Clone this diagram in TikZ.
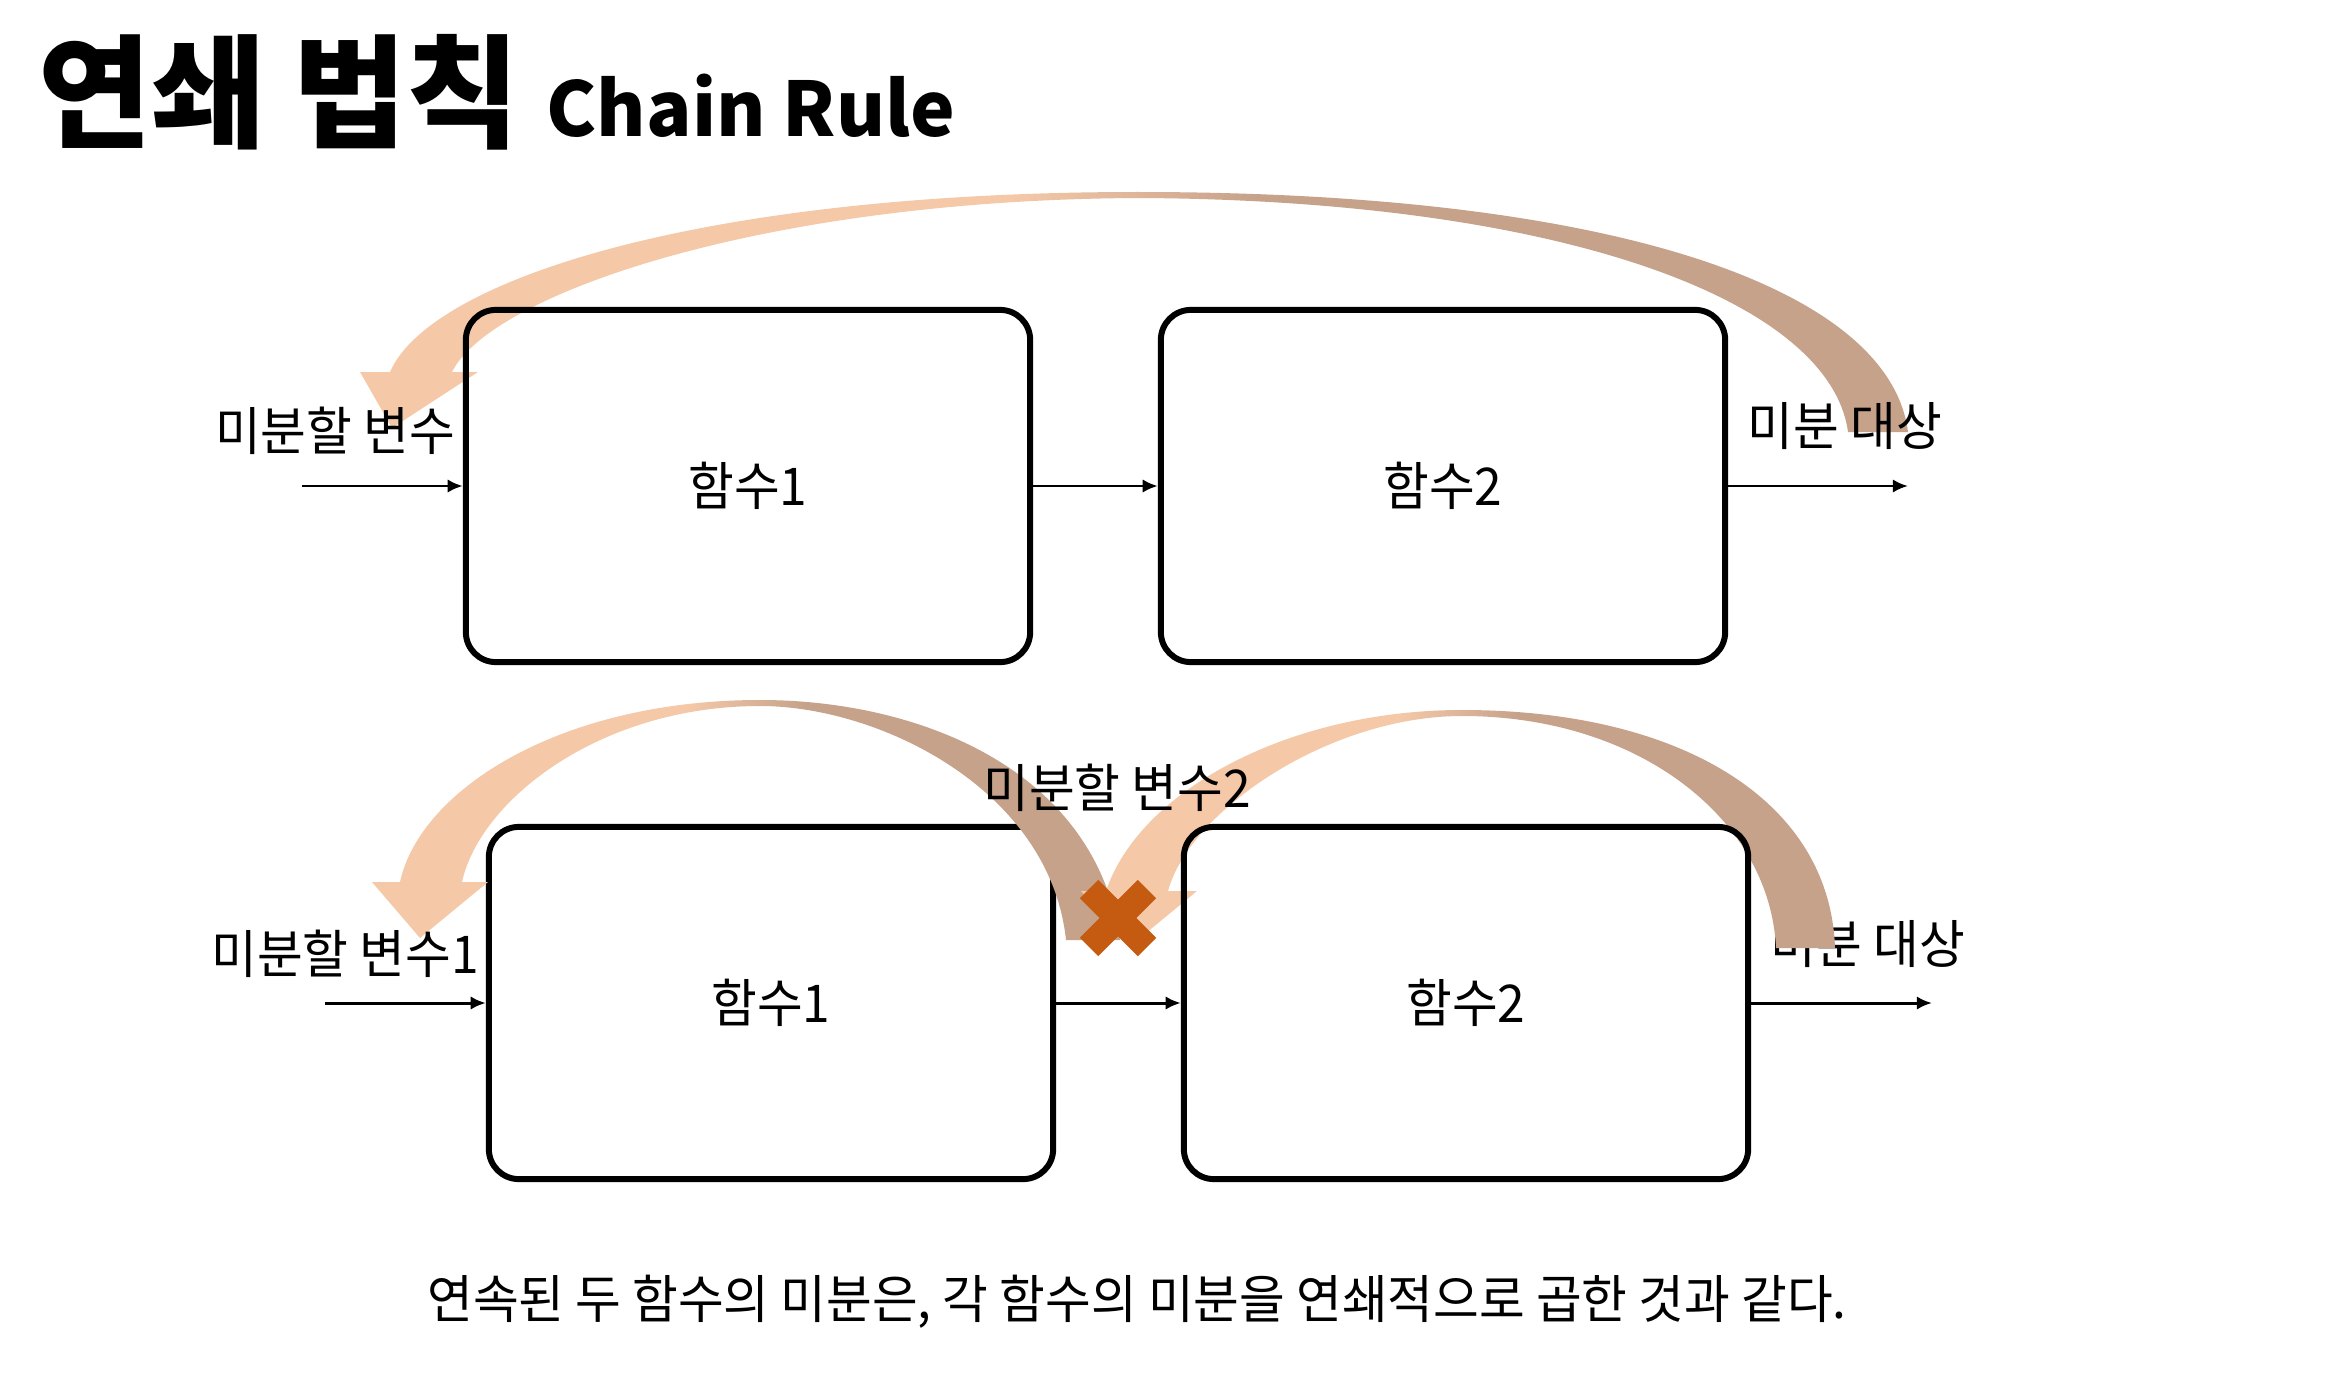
\documentclass[tikz,border=0pt]{standalone}
\usepackage{fontspec}
\setmainfont{Noto Sans CJK KR}
\newfontfamily\krfont[FakeStretch=0.955]{Noto Sans CJK KR}
\newfontfamily\headfont{Noto Sans CJK KR}
\usetikzlibrary{arrows.meta}

\definecolor{arcpeach}{HTML}{F5C9A8}
\definecolor{arctan}{HTML}{C6A28A}
\definecolor{xorange}{HTML}{C55A11}

% left half light, right half darker, short blend around the apex
\pgfdeclarehorizontalshading{arcfill}{100bp}{color(0bp)=(arcpeach); color(46bp)=(arcpeach); color(54bp)=(arctan); color(100bp)=(arctan)}

\tikzset{
  fnbox/.style={draw=black, line width=1.7pt, rounded corners=0.3cm,
    minimum width=5.64cm, minimum height=3.52cm, inner sep=0pt,
    font=\krfont\fontsize{14.8pt}{17pt}\selectfont},
  conn/.style={-{Latex[length=4.3pt,width=3.8pt]}, line width=0.85pt},
  lbl/.style={inner sep=0pt, font=\krfont\fontsize{14.8pt}{17pt}\selectfont},
  curvedarrow/.style={shading=arcfill},
  xmark/.style={fill=xorange},
}

\begin{document}
\begin{tikzpicture}[x=0.01cm, y=-0.01cm]
\useasboundingbox (0,0) rectangle (2345,1385);
\fill[white] (0,0) rectangle (2345,1385);

% heading
\node[anchor=base west, inner sep=0pt, font=\headfont\bfseries\fontsize{35pt}{40pt}\selectfont] (title) at (38,139) {연쇄 법칙};
\node[anchor=base west, inner sep=0pt, font=\headfont\bfseries\fontsize{21.4pt}{25pt}\selectfont] (subtitle) at (546,137) {Chain Rule};

% ---------- upper chain ----------
\shade[curvedarrow] (1908,432) .. controls (1890,290) and (1620,192) .. (1138,192)
  .. controls (700,192) and (430,280) .. (390,372)
  -- (360,372) -- (392,428) -- (478,372) -- (452,372)
  .. controls (490,295) and (760,200) .. (1138,198)
  .. controls (1560,200) and (1830,300) .. (1848,432) -- cycle;

\node[fnbox] (ta) at (748,486) {함수1};
\node[fnbox] (tb) at (1443,486) {함수2};
\coordinate (tin) at (302,486);
\coordinate (tout) at (1908,486);
\draw[conn] (tin) -- (ta.west);
\draw[conn] (ta.east) -- (tb.west);
\draw[conn] (tb.east) -- (tout);
\node[lbl] (tvar) at (335,431) {미분할 변수};
\node[lbl] (ttgt) at (1845,426) {미분 대상};

% ---------- lower chain ----------
\node[lbl] (btgt) at (1868,944) {미분 대상};
\node[fnbox] (ba) at (771,1003) {함수1};

\shade[curvedarrow] (1120,940) .. controls (1095,770) and (920,700) .. (760,700)
  .. controls (560,700) and (420,790) .. (400,882)
  -- (372,882) -- (420,938) -- (488,882) -- (462,882)
  .. controls (480,800) and (600,706) .. (760,706)
  .. controls (880,706) and (1050,790) .. (1066,940) -- cycle;

\shade[curvedarrow] (1835,948) .. controls (1830,800) and (1680,710) .. (1462,710)
  .. controls (1290,710) and (1140,790) .. (1106,891)
  -- (1081,891) -- (1129,947) -- (1197,891) -- (1168,891)
  .. controls (1190,810) and (1330,716) .. (1462,716)
  .. controls (1640,716) and (1770,820) .. (1776,948) -- cycle;

\node[fnbox] (bb) at (1466,1003) {함수2};
\coordinate (bin) at (325,1003);
\coordinate (bout) at (1932,1003);
\draw[conn] (bin) -- (ba.west);
\draw[conn] (ba.east) -- (bb.west);
\draw[conn] (bb.east) -- (bout);
\node[lbl] (bvar1) at (345,954) {미분할 변수1};
\node[lbl] (bvar2) at (1117,788) {미분할 변수2};

% cross over the middle link
\begin{scope}[shift={(1118,918)}, rotate=45]
\fill[xmark] (41,13) -- (13,13) -- (13,41) -- (-13,41) -- (-13,13) -- (-41,13)
  -- (-41,-13) -- (-13,-13) -- (-13,-41) -- (13,-41) -- (13,-13) -- (41,-13) -- cycle;
\end{scope}

% summary line
\node[lbl] (caption) at (1137,1302) {연속된 두 함수의 미분은, 각 함수의 미분을 연쇄적으로 곱한 것과 같다.};
\end{tikzpicture}
\end{document}
